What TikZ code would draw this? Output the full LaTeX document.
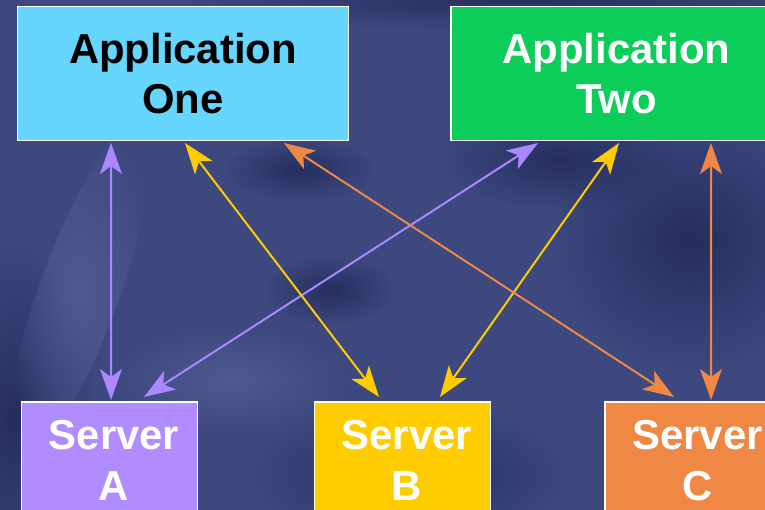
\documentclass[tikz,border=0pt]{standalone}
\usepackage{fontspec}
\setmainfont{Liberation Sans}
\usetikzlibrary{arrows.meta,fadings}

\definecolor{bgbase}{RGB}{60,72,126}
\definecolor{bgdark}{RGB}{38,46,94}
\definecolor{bglight}{RGB}{78,90,144}
\definecolor{appone}{RGB}{102,214,255}
\definecolor{apptwo}{RGB}{12,204,90}
\definecolor{srva}{RGB}{176,140,255}
\definecolor{srvb}{RGB}{255,204,0}
\definecolor{srvc}{RGB}{238,136,68}
\definecolor{linka}{RGB}{170,136,255}
\definecolor{linkb}{RGB}{255,204,0}
\definecolor{linkc}{RGB}{238,136,68}

% soft blob: opaque in the middle, fully clear at the rim
\tikzfading[name=blobfade, inner color=transparent!0, outer color=transparent!100]

\tikzset{
  boxfont/.style={font=\fontsize{42}{51}\selectfont\bfseries, align=center},
  appbox/.style={draw=white, line width=1.5bp, outer sep=0pt, inner sep=0pt,
    anchor=north west, minimum width=331bp, minimum height=134bp, boxfont},
  srvbox/.style={draw=white, line width=1.5bp, outer sep=0pt, inner sep=0pt,
    anchor=north west, minimum width=176bp, minimum height=122bp},
  srvlabel/.style={label={[xshift=4.5bp, yshift=2.5bp, inner sep=0pt, boxfont, text=white]center:#1}},
  link/.style={line width=2bp, {Stealth[length=31bp,width=22bp,inset=8bp]}-{Stealth[length=31bp,width=22bp,inset=8bp]}},
  darkblob/.style={fill=bgdark, path fading=blobfade},
  lightblob/.style={fill=bglight, path fading=blobfade},
}

\begin{document}
\begin{tikzpicture}[x=1bp, y=-1bp]
  \clip (0,0) rectangle (765,510);

  % cloudy night-blue backdrop
  \fill[bgbase] (0,0) rectangle (765,510);
  \path[darkblob] (520,0) ellipse (330 and 30);
  \path[darkblob] (690,240) ellipse (140 and 130);
  \path[darkblob] (560,160) ellipse (120 and 50);
  \path[darkblob] (15,420) ellipse (80 and 180);
  \path[darkblob] (410,475) ellipse (160 and 70);
  \path[darkblob] (300,170) ellipse (75 and 32);
  \path[darkblob] (330,290) ellipse (65 and 35);
  \path[lightblob, rotate around={-20:(80,290)}] (80,290) ellipse (40 and 180);
  \path[lightblob] (230,380) ellipse (120 and 55);

  % application boxes
  \node[appbox, fill=appone, text=black] (one) at (17.5,6.5) {Application\\One};
  \node[appbox, fill=apptwo, text=white] (two) at (451,6.5) {Application\\Two};

  % server boxes
  \node[srvbox, fill=srva, srvlabel={Server\\A}] (sa) at (21.5,402) {};
  \node[srvbox, fill=srvb, srvlabel={Server\\B}] (sb) at (314.3,402) {};
  \node[srvbox, fill=srvc, srvlabel={Server\\C}] (sc) at (605,402) {};

  % two-way links between applications and servers
  \draw[link, linka] ([xshift=93.5bp, yshift=-2.5bp]one.south west) -- ([xshift=89.5bp, yshift=2bp]sa.north west);
  \draw[link, linka] ([xshift=87bp, yshift=-2.5bp]two.south west) -- ([xshift=122.5bp, yshift=5bp]sa.north west);
  \draw[link, linkb] ([xshift=167.5bp, yshift=-2.5bp]one.south west) -- ([xshift=64.7bp, yshift=5bp]sb.north west);
  \draw[link, linkb] ([xshift=168bp, yshift=-2.5bp]two.south west) -- ([xshift=125.7bp, yshift=5bp]sb.north west);
  \draw[link, linkc] ([xshift=266.5bp, yshift=-2.5bp]one.south west) -- ([xshift=69bp, yshift=5bp]sc.north west);
  \draw[link, linkc] ([xshift=260bp, yshift=-2.5bp]two.south west) -- ([xshift=106bp, yshift=2bp]sc.north west);
\end{tikzpicture}
\end{document}
